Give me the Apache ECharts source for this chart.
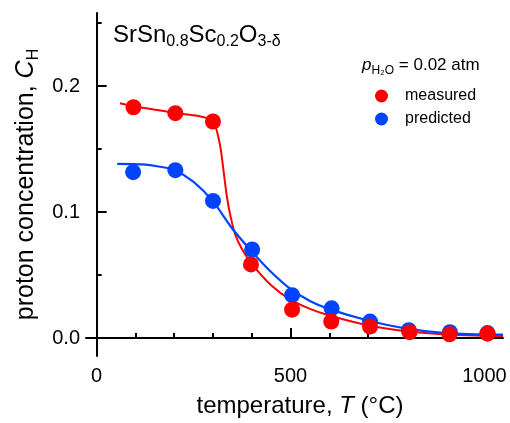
<!DOCTYPE html>
<html>
<head>
<meta charset="utf-8">
<script src="https://cdn.jsdelivr.net/npm/echarts@6/dist/echarts.min.js"></script>
<style>
html,body{margin:0;padding:0;background:#fff;}
#chart{width:510px;height:423px;}
</style>
</head>
<body>
<div id="chart"></div>
<script>
// ---- data ----
const tempMeasured = [95, 203, 300, 398, 504, 605, 705, 807, 910, 1008];
const cMeasured    = [0.1832, 0.1785, 0.1719, 0.0585, 0.0226, 0.0131, 0.0092, 0.0047, 0.0030, 0.0035];
const tempPredicted = [94, 203, 300, 401, 504, 606, 705, 805, 911, 1008];
const cPredicted    = [0.1317, 0.1333, 0.1089, 0.0703, 0.0341, 0.0236, 0.0131, 0.0063, 0.0047, 0.0040];

// fitted curves
const fitTempMeasured = [60, 100, 150, 200, 250, 280, 295, 305, 312, 320, 328, 336, 345, 357, 375, 400, 450, 500, 550, 600, 700, 800, 900, 1048];
const fitCMeasured    = [0.1864, 0.1838, 0.1813, 0.1788, 0.1768, 0.1750, 0.1728, 0.1690, 0.1620, 0.1500, 0.1310, 0.1120, 0.0970, 0.0825, 0.0705, 0.0590, 0.0420, 0.0305, 0.0232, 0.0180, 0.0102, 0.0054, 0.0029, 0.0016];
const fitTempPredicted = [53, 120, 160, 200, 250, 300, 350, 400, 450, 500, 550, 600, 700, 800, 900, 1048];
const fitCPredicted    = [0.1383, 0.1378, 0.1362, 0.1335, 0.1240, 0.1085, 0.0868, 0.0688, 0.0525, 0.0390, 0.0295, 0.0230, 0.0140, 0.0075, 0.0040, 0.0027];

// ticks
const xMajorTicks = [0, 500, 1000];
const xMinorTicks = [100, 200, 300, 400, 600, 700, 800, 900];
const yMajorTicks = [0, 0.1, 0.2];
const yMinorTicks = [0.05, 0.15, 0.25];

const legendNames = ['measured', 'predicted'];
const RED = '#ff0000';
const BLUE = '#0044ff';
const FONT = "'Liberation Sans', Arial, sans-serif";

function zip(a, b) { return a.map((v, i) => [v, b[i]]); }

const chart = echarts.init(document.getElementById('chart'), null, {renderer: 'canvas'});

const xBase = {
  type: 'value', min: -27.5, max: 1048, gridIndex: 0, position: 'bottom',
  splitLine: {show: false}
};
const yBase = {
  type: 'value', min: -0.0142, max: 0.258, gridIndex: 0, position: 'left',
  splitLine: {show: false}
};

const option = {
  animation: false,
  backgroundColor: '#fff',
  textStyle: {fontFamily: FONT, color: '#000'},
  grid: {left: 86, right: 7, top: 13, bottom: 64, containLabel: false},
  title: [
    {
      text: '{m|SrSn}{s|0.8}{m|Sc}{s|0.2}{m|O}{s|3-δ}',
      left: 113, top: 20, padding: 0,
      textStyle: {
        fontWeight: 'normal',
        rich: {
          m: {fontSize: 24, fontWeight: 'normal', fontFamily: FONT, color: '#000', lineHeight: 30},
          s: {fontSize: 16, fontWeight: 'normal', fontFamily: FONT, color: '#000', lineHeight: 16, verticalAlign: 'bottom'}
        }
      }
    },
    {
      text: '{i|p}{s|H₂O}{m| = 0.02 atm}',
      left: 362, top: 53, padding: 0,
      textStyle: {
        fontWeight: 'normal',
        rich: {
          i: {fontSize: 17, fontWeight: 'normal', fontStyle: 'italic', fontFamily: FONT, color: '#000', lineHeight: 24},
          s: {fontSize: 12, fontWeight: 'normal', fontFamily: FONT, color: '#000', lineHeight: 12, verticalAlign: 'bottom'},
          m: {fontSize: 17, fontWeight: 'normal', fontFamily: FONT, color: '#000', lineHeight: 24}
        }
      }
    }
  ],
  legend: {
    data: legendNames,
    orient: 'vertical',
    left: 375, top: 88,
    itemWidth: 13, itemHeight: 13, itemGap: 7,
    icon: 'circle',
    padding: 0,
    textStyle: {fontSize: 16, fontFamily: FONT, color: '#000', padding: [0, 0, 0, 12]}
  },
  xAxis: [
    Object.assign({}, xBase, {
      axisLine: {show: true, lineStyle: {color: '#000', width: 2}},
      axisTick: {show: true, inside: true, length: 10, lineStyle: {color: '#000', width: 2}, customValues: xMajorTicks},
      axisLabel: {show: true, customValues: xMajorTicks, fontSize: 20, margin: 10, color: '#000', fontFamily: FONT,
        formatter: v => String(Math.round(v))},
      name: '{n|temperature, }{i|T}{n| (°C)}',
      nameLocation: 'middle', nameGap: 38,
      nameTextStyle: {
        padding: [0, 0, 0, 11],
        rich: {
          n: {fontSize: 24, fontFamily: FONT, color: '#000'},
          i: {fontSize: 24, fontFamily: FONT, fontStyle: 'italic', color: '#000'}
        }
      }
    }),
    Object.assign({}, xBase, {
      axisLine: {show: false},
      axisTick: {show: true, inside: true, length: 5, lineStyle: {color: '#000', width: 2}, customValues: xMinorTicks},
      axisLabel: {show: false}
    })
  ],
  yAxis: [
    Object.assign({}, yBase, {
      axisLine: {show: true, lineStyle: {color: '#000', width: 2}},
      axisTick: {show: true, inside: true, length: 10, lineStyle: {color: '#000', width: 2}, customValues: yMajorTicks},
      axisLabel: {show: true, customValues: yMajorTicks, fontSize: 20, margin: 6, color: '#000', fontFamily: FONT,
        formatter: v => v.toFixed(1)},
      name: '{n|proton concentration, }{i|C}{s|H}',
      nameLocation: 'middle', nameGap: 41,
      nameTextStyle: {
        padding: [0, 0, 0, 0],
        rich: {
          n: {fontSize: 25, fontFamily: FONT, color: '#000', lineHeight: 30},
          i: {fontSize: 25, fontFamily: FONT, fontStyle: 'italic', color: '#000', lineHeight: 30},
          s: {fontSize: 16, fontFamily: FONT, color: '#000', lineHeight: 16, verticalAlign: 'bottom'}
        }
      }
    }),
    Object.assign({}, yBase, {
      axisLine: {show: false},
      axisTick: {show: true, inside: true, length: 5, lineStyle: {color: '#000', width: 2}, customValues: yMinorTicks},
      axisLabel: {show: false}
    })
  ],
  series: [
    {
      name: 'measured fit', type: 'line', xAxisIndex: 0, yAxisIndex: 0,
      data: zip(fitTempMeasured, fitCMeasured),
      showSymbol: false, smooth: 0.25,
      lineStyle: {color: RED, width: 2}, itemStyle: {color: RED}, z: 2
    },
    {
      name: 'predicted fit', type: 'line', xAxisIndex: 0, yAxisIndex: 0,
      data: zip(fitTempPredicted, fitCPredicted),
      showSymbol: false, smooth: 0.3,
      lineStyle: {color: BLUE, width: 2.2}, itemStyle: {color: BLUE}, z: 3
    },
    {
      name: 'predicted', type: 'scatter', xAxisIndex: 0, yAxisIndex: 0,
      data: zip(tempPredicted, cPredicted),
      symbol: 'circle', symbolSize: 16,
      itemStyle: {color: BLUE, opacity: 1}, z: 4
    },
    {
      name: 'measured', type: 'scatter', xAxisIndex: 0, yAxisIndex: 0,
      data: zip(tempMeasured, cMeasured),
      symbol: 'circle', symbolSize: 16,
      itemStyle: {color: RED, opacity: 1}, z: 5
    }
  ]
};
chart.setOption(option);
</script>
</body>
</html>
